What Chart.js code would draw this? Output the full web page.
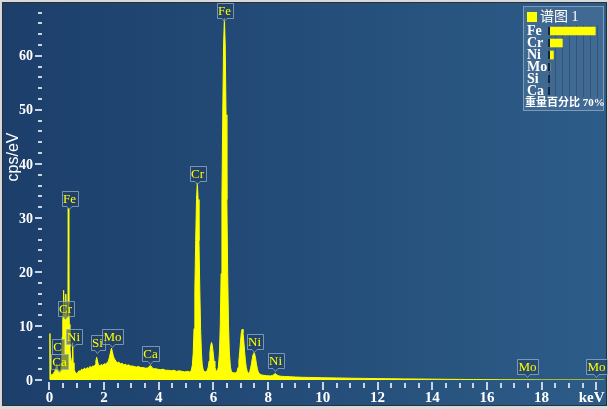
<!DOCTYPE html>
<html>
<head>
<meta charset="utf-8">
<script src="https://cdn.jsdelivr.net/npm/chart.js@4.4.1/dist/chart.umd.min.js"></script>
<style>
  html, body { margin: 0; padding: 0; background: #dcdcdc; }
  #wrap { position: relative; width: 608px; height: 409px; overflow: hidden; }
  #spec { position: absolute; left: 0; top: 0; }
  #panel { position: absolute; left: 523px; top: 6px; width: 81px; height: 105px; box-sizing: border-box;
           background: rgba(110, 140, 175, 0.32); border: 1px solid rgba(165, 188, 212, 0.6); }
  #head { position: absolute; left: 527px; top: 10px; color: #fff; white-space: nowrap;
          font: 14px "Liberation Serif", "Noto Sans CJK SC"; line-height: 14px; }
  #head .sq { display: inline-block; width: 10px; height: 10px; background: #ffff00; margin-right: 3px; vertical-align: -1px; }
  #foot { position: absolute; left: 525px; top: 96px; color: #fff; white-space: nowrap;
          font: bold 11px "Liberation Serif", "Noto Sans CJK SC"; line-height: 13px; }
  #wt { position: absolute; left: 523px; top: 18px; }
</style>
</head>
<body>
<div id="wrap">
  <canvas id="spec" width="608" height="409"></canvas>
  <div id="panel"></div>
  <div id="head"><span class="sq"></span>谱图 1</div>
  <canvas id="wt" width="80" height="86"></canvas>
  <div id="foot">重量百分比 70%</div>
</div>
<script>
// spectrum (keV, cps/eV)
const energy = [
  0.00, 0.02, 0.04, 0.08, 0.12, 0.16, 0.20, 0.24, 0.27, 0.30, 0.34, 0.38, 0.42, 0.45, 0.47, 0.49,
  0.51, 0.52, 0.54, 0.56, 0.58, 0.60, 0.62, 0.64, 0.66, 0.68, 0.69, 0.71, 0.73, 0.75, 0.78, 0.81,
  0.83, 0.85, 0.87, 0.90, 0.94, 0.98, 1.03, 1.08, 1.13, 1.18, 1.23, 1.28, 1.33, 1.38, 1.43, 1.48,
  1.53, 1.58, 1.63, 1.67, 1.70, 1.73, 1.76, 1.80, 1.85, 1.90, 1.95, 2.00, 2.05, 2.10, 2.15, 2.19,
  2.23, 2.27, 2.30, 2.34, 2.38, 2.43, 2.48, 2.54, 2.60, 2.66, 2.72, 2.78, 2.84, 2.90, 2.96, 3.02,
  3.10, 3.18, 3.26, 3.34, 3.42, 3.50, 3.58, 3.64, 3.69, 3.74, 3.80, 3.88, 3.96, 4.05, 4.15, 4.25,
  4.35, 4.45, 4.55, 4.65, 4.75, 4.85, 4.95, 5.05, 5.12,
  5.19, 5.23, 5.26, 5.29, 5.32, 5.35, 5.38, 5.41, 5.44, 5.47, 5.50, 5.53, 5.56, 5.59, 5.63, 5.70,
  5.77, 5.81, 5.84, 5.87, 5.90, 5.93, 5.96, 5.99, 6.02, 6.05, 6.09,
  6.14, 6.18, 6.22, 6.25, 6.28, 6.31, 6.34, 6.37, 6.40, 6.43, 6.46, 6.49, 6.52, 6.55, 6.58, 6.62,
  6.66, 6.72, 6.80,
  6.86, 6.90, 6.93, 6.96, 6.99, 7.02, 7.05, 7.08, 7.11, 7.14, 7.17, 7.20, 7.24,
  7.29, 7.33, 7.36, 7.39, 7.42, 7.45, 7.48, 7.51, 7.54, 7.57, 7.60, 7.63, 7.67,
  7.75, 7.85, 7.95, 8.08, 8.16, 8.21, 8.26, 8.31, 8.36, 8.45, 8.60, 8.80, 9.00, 9.25, 9.50, 9.75,
  10.0, 10.5, 11.0, 11.5, 12.0, 12.5, 13.0, 13.5, 14.0, 14.5, 15.0, 15.5, 16.0, 16.5, 17.0, 17.5,
  18.0, 19.0, 20.3
];
const counts = [
  0.3, 8.6, 1.2, 0.9, 1.1, 1.3, 1.6, 2.3, 2.9, 2.1, 1.8, 1.6, 1.9, 3.2, 8.0, 11.2,
  12.4, 16.6, 12.0, 11.4, 12.3, 15.9, 11.8, 11.1, 11.7, 18.5, 31.8, 14.0, 10.3, 6.0, 3.8, 3.0,
  4.1, 6.9, 3.2, 2.0, 1.5, 1.2, 1.3, 1.7, 1.6, 2.0, 1.8, 2.2, 2.0, 2.3, 2.1, 2.5,
  2.3, 2.6, 2.5, 2.8, 3.5, 4.2, 3.5, 2.7, 2.6, 2.9, 2.7, 3.0, 2.9, 3.2, 3.4, 4.1,
  5.0, 5.9, 5.3, 4.4, 3.9, 3.5, 3.2, 3.3, 3.0, 3.1, 2.8, 2.9, 2.7, 2.8, 2.6, 2.6,
  2.5, 2.4, 2.5, 2.3, 2.3, 2.2, 2.2, 2.4, 2.7, 2.4, 2.1, 2.1, 2.0, 1.9, 2.0, 1.8,
  1.8, 1.7, 1.8, 1.6, 1.7, 1.6, 1.5, 1.6, 1.5,
  1.75, 2.8, 5.0, 9.5, 16.8, 25.8, 33.4, 36.5, 33.4, 25.8, 16.8, 9.5, 5.0, 2.8, 1.75, 1.5,
  1.7, 2.4, 3.5, 5.0, 6.4, 6.95, 6.4, 5.0, 3.5, 2.4, 1.7,
  1.6, 2.4, 5.2, 10.3, 19.7, 33.4, 49.1, 62.0, 67.0, 62.0, 49.1, 33.4, 19.7, 10.3, 5.2, 2.4,
  1.5, 1.35, 1.3,
  1.5, 2.3, 3.5, 5.2, 7.15, 8.8, 9.4, 8.8, 7.15, 5.2, 3.5, 2.3, 1.5,
  1.2, 1.6, 2.2, 3.0, 4.0, 4.75, 5.05, 4.75, 4.0, 3.0, 2.2, 1.6, 1.2,
  0.95, 0.85, 0.8, 0.75, 0.85, 1.0, 1.2, 1.0, 0.8, 0.7, 0.65, 0.6, 0.55, 0.5, 0.48, 0.45,
  0.42, 0.38, 0.33, 0.3, 0.26, 0.23, 0.2, 0.18, 0.16, 0.13, 0.11, 0.09, 0.07, 0.05, 0.03, 0.03,
  0.02, 0.01, 0
];

// line markers: element, energy (keV), level of the marker tip (cps/eV)
const peakNames  = ['C', 'Ca', 'Cr', 'Fe', 'Ni', 'Si', 'Mo', 'Ca', 'Cr', 'Fe', 'Ni', 'Ni', 'Mo', 'Mo'];
const peakEnergy = [0.277, 0.341, 0.573, 0.705, 0.851, 1.740, 2.293, 3.691, 5.414, 6.403, 7.477, 8.264, 17.48, 19.98];
const peakLevel  = [4.3, 1.5, 11.3, 31.7, 6.1, 5.0, 6.1, 3.0, 36.3, 66.5, 5.2, 1.7, 0.55, 0.55];

// axes
const yTicks = [0, 10, 20, 30, 40, 50, 60];
const xTicks = [0, 2, 4, 6, 8, 10, 12, 14, 16, 18];
const yTitle = 'cps/eV';

// weight % inset
const elements = ['Fe', 'Cr', 'Ni', 'Mo', 'Si', 'Ca'];
const weightPct = [68, 20, 6.9, 1.8, 0.4, 0.2];
const weightMax = 70;

const serif = '"Liberation Serif", "Times New Roman", serif';

// background + frame
const frame = {
  id: 'frame',
  beforeDraw(chart) {
    const ctx = chart.ctx, W = chart.width, H = chart.height;
    ctx.save();
    ctx.fillStyle = '#d9d9d9';
    ctx.fillRect(0, 0, W, H);
    ctx.fillStyle = '#2b3038';
    ctx.fillRect(2, 2, W - 3, H - 5);
    const g = ctx.createLinearGradient(0, 0, W, 0);
    g.addColorStop(0, '#1c3e6a');
    g.addColorStop(1, '#2d5c88');
    ctx.fillStyle = g;
    ctx.fillRect(3, 3, W - 5, H - 7);
    ctx.restore();
  }
};

// tick marks and labels, drawn from the chart's own scales
const axisMarks = {
  id: 'axisMarks',
  afterDraw(chart) {
    const ctx = chart.ctx;
    const xs = chart.scales.x, ys = chart.scales.y;
    const area = chart.chartArea;
    ctx.save();
    ctx.fillStyle = '#c9d4e2';
    // y minor every 2
    for (let v = 0; v <= ys.max; v += 2) {
      const py = Math.round(ys.getPixelForValue(v));
      const major = v % 10 === 0;
      ctx.fillRect(major ? 35 : 38, py - 1, major ? 7 : 4, 2);
    }
    // x minor every 0.5
    for (let k = 0; k <= 40; k++) {
      const v = k / 2;
      const px = Math.round(xs.getPixelForValue(v));
      const major = k % 4 === 0;
      ctx.fillRect(px - 1, major ? 382 : 383, 2, major ? 8 : 5);
    }
    ctx.fillStyle = '#ffffff';
    ctx.font = 'bold 14px ' + serif;
    ctx.textAlign = 'right';
    ctx.textBaseline = 'middle';
    yTicks.forEach(v => ctx.fillText(String(v), 33, ys.getPixelForValue(v) + 1));
    ctx.font = 'bold 15px ' + serif;
    ctx.textAlign = 'center';
    xTicks.forEach(v => ctx.fillText(String(v), xs.getPixelForValue(v), 398));
    ctx.textAlign = 'right';
    ctx.fillText('keV', area.right, 398);
    // y title
    ctx.translate(14, 157);
    ctx.rotate(-Math.PI / 2);
    ctx.font = '16px "Liberation Sans", Arial, sans-serif';
    ctx.textAlign = 'center';
    ctx.fillText(yTitle, 0, 0);
    ctx.restore();
  }
};

// element tags over the peaks
const peakTags = {
  id: 'peakTags',
  afterDatasetsDraw(chart) {
    const ctx = chart.ctx;
    const xs = chart.scales.x, ys = chart.scales.y;
    ctx.save();
    ctx.font = '13px ' + serif;
    peakNames.forEach((name, i) => {
      const cx = Math.round(xs.getPixelForValue(peakEnergy[i])) + 0.5;
      const tip = Math.round(ys.getPixelForValue(peakLevel[i]));
      const w = Math.round(ctx.measureText(name).width) + 3;
      const h = 15;
      const x = Math.round(cx - w / 2) + 0.5;
      const y = tip - 3 - h + 0.5;
      ctx.beginPath();
      ctx.moveTo(x, y);
      ctx.lineTo(x + w, y);
      ctx.lineTo(x + w, y + h);
      ctx.lineTo(cx + 2.5, y + h);
      ctx.lineTo(cx, y + h + 3);
      ctx.lineTo(cx - 2.5, y + h);
      ctx.lineTo(x, y + h);
      ctx.closePath();
      ctx.fillStyle = 'rgba(34, 64, 100, 0.55)';
      ctx.fill();
      ctx.strokeStyle = 'rgba(150, 176, 205, 0.75)';
      ctx.lineWidth = 1;
      ctx.stroke();
      ctx.fillStyle = '#ffff00';
      ctx.textAlign = 'center';
      ctx.textBaseline = 'middle';
      ctx.fillText(name, cx, y + h / 2 + 1);
    });
    ctx.restore();
  }
};

const specChart = new Chart(document.getElementById('spec'), {
  type: 'line',
  data: {
    datasets: [{
      data: energy.map((e, i) => ({ x: e, y: counts[i] })),
      borderColor: '#ffff00',
      backgroundColor: '#ffff00',
      borderWidth: 1,
      fill: 'origin',
      pointRadius: 0,
      tension: 0
    }]
  },
  options: {
    responsive: false,
    animation: false,
    events: [],
    layout: { padding: { left: 42, right: 3.5, top: 4, bottom: 29 } },
    plugins: { legend: { display: false }, tooltip: { enabled: false } },
    scales: {
      x: { type: 'linear', min: -0.27, max: 20.3, display: false },
      y: { min: 0, max: 69.6, display: false }
    }
  },
  plugins: [frame, axisMarks, peakTags]
});

// small dark mark where every bar starts
const barStarts = {
  id: 'barStarts',
  afterDatasetsDraw(chart) {
    const ctx = chart.ctx;
    const x0 = chart.scales.x.getPixelForValue(0);
    ctx.save();
    ctx.fillStyle = '#13253e';
    elements.forEach((el, i) => {
      const py = chart.scales.y.getPixelForValue(i);
      ctx.fillRect(x0 - 1, py - 4, 2, 8);
    });
    ctx.restore();
  }
};

const wtChart = new Chart(document.getElementById('wt'), {
  type: 'bar',
  data: {
    labels: elements,
    datasets: [{
      data: weightPct,
      backgroundColor: '#ffff00',
      borderWidth: 0,
      barPercentage: 0.72,
      categoryPercentage: 1
    }]
  },
  options: {
    indexAxis: 'y',
    responsive: false,
    animation: false,
    events: [],
    layout: { padding: { left: 4, right: 6, top: 0, bottom: 0 } },
    plugins: { legend: { display: false }, tooltip: { enabled: false } },
    scales: {
      x: {
        min: 0, max: weightMax,
        ticks: { display: false, stepSize: 10 },
        grid: { color: 'rgba(15, 35, 60, 0.3)', drawTicks: false },
        border: { display: false }
      },
      y: {
        afterFit: s => { s.width = 22; },
        ticks: {
          color: '#ffffff', autoSkip: false, crossAlign: 'far', padding: 0,
          font: { family: serif, size: 14, weight: 'bold', lineHeight: 1 }
        },
        grid: { display: false, drawTicks: false },
        border: { display: false }
      }
    }
  },
  plugins: [barStarts]
});
</script>
</body>
</html>
